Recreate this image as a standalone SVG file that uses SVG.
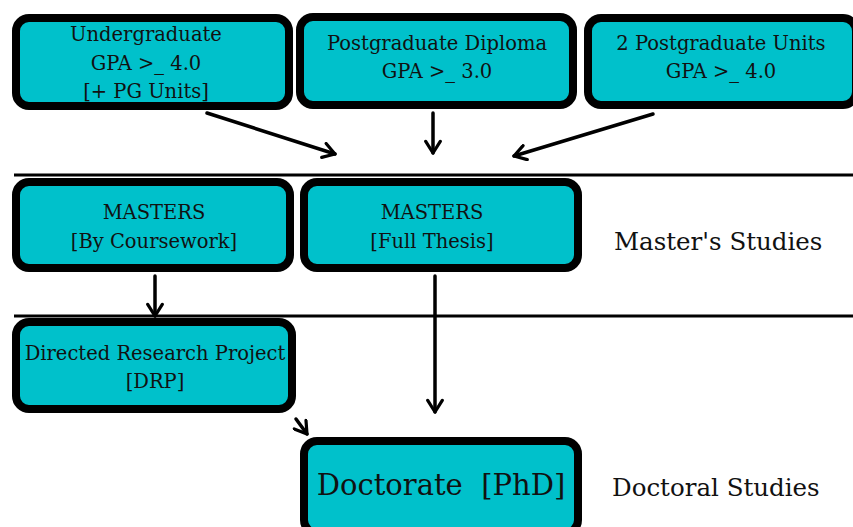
<svg xmlns="http://www.w3.org/2000/svg" width="853" height="527" viewBox="0 0 853 527">
<style>
.box{fill:#00C1CB;stroke:#000;stroke-width:8}
.t{font-family:"DejaVu Serif","Liberation Serif",serif;font-size:19.5px;fill:#111;text-anchor:middle}
.big{font-size:29px;white-space:pre}
.lab{font-family:"DejaVu Serif","Liberation Serif",serif;font-size:24.5px;fill:#111}
.c{stroke:#000;stroke-width:3.5;fill:none;stroke-linecap:round}
.sep{stroke:#000;stroke-width:3}
</style>
<defs>
<marker id="ah" viewBox="0 0 12 12" refX="10" refY="6" markerWidth="5" markerHeight="5" orient="auto" markerUnits="strokeWidth">
<path d="M2,1 L10,6 L2,11" fill="none" stroke="#000" stroke-width="2.2" stroke-linecap="round" stroke-linejoin="round"/>
</marker>
</defs>
<rect width="853" height="527" fill="#fff"/>
<g id="separators">
<line class="sep" x1="14" y1="175" x2="853" y2="175"/>
<line class="sep" x1="14" y1="316" x2="853" y2="316"/>
</g>
<g id="connectors">
<line class="c" x1="207" y1="113" x2="335" y2="154" marker-end="url(#ah)"/>
<line class="c" x1="433" y1="113" x2="433" y2="153" marker-end="url(#ah)"/>
<line class="c" x1="653" y1="114" x2="514" y2="156" marker-end="url(#ah)"/>
<line class="c" x1="155" y1="276" x2="155" y2="316" marker-end="url(#ah)"/>
<line class="c" x1="435" y1="276" x2="435" y2="412" marker-end="url(#ah)"/>
<line class="c" x1="296" y1="419" x2="307" y2="434" marker-end="url(#ah)"/>
</g>
<g id="undergrad">
<rect class="box" x="16" y="18" width="273" height="88" rx="13"/>
<text class="t" x="146" y="41">Undergraduate</text>
<text class="t" x="146" y="70">GPA &gt;_ 4.0</text>
<text class="t" x="146" y="98">[+ PG Units]</text>
</g>
<g id="pgdiploma">
<rect class="box" x="300" y="17" width="273" height="88" rx="13"/>
<text class="t" x="437" y="50">Postgraduate Diploma</text>
<text class="t" x="437" y="78">GPA &gt;_ 3.0</text>
</g>
<g id="pgunits">
<rect class="box" x="588" y="18" width="268" height="87" rx="13"/>
<text class="t" x="721" y="50">2 Postgraduate Units</text>
<text class="t" x="721" y="78">GPA &gt;_ 4.0</text>
</g>
<g id="coursework">
<rect class="box" x="16" y="182" width="274" height="86" rx="13"/>
<text class="t" x="154" y="219">MASTERS</text>
<text class="t" x="154" y="248">[By Coursework]</text>
</g>
<g id="thesis">
<rect class="box" x="304" y="182" width="274" height="86" rx="13"/>
<text class="t" x="432" y="219">MASTERS</text>
<text class="t" x="432" y="248">[Full Thesis]</text>
</g>
<g id="drp">
<rect class="box" x="16" y="322" width="276" height="87" rx="13"/>
<text class="t" x="155" y="360">Directed Research Project</text>
<text class="t" x="155" y="388">[DRP]</text>
</g>
<g id="phd">
<rect class="box" x="304" y="441" width="274" height="92" rx="13"/>
<text class="t big" x="441" y="495">Doctorate  [PhD]</text>
</g>
<g id="labels">
<text class="lab" x="614" y="250">Master's Studies</text>
<text class="lab" x="612" y="496">Doctoral Studies</text>
</g>
</svg>
